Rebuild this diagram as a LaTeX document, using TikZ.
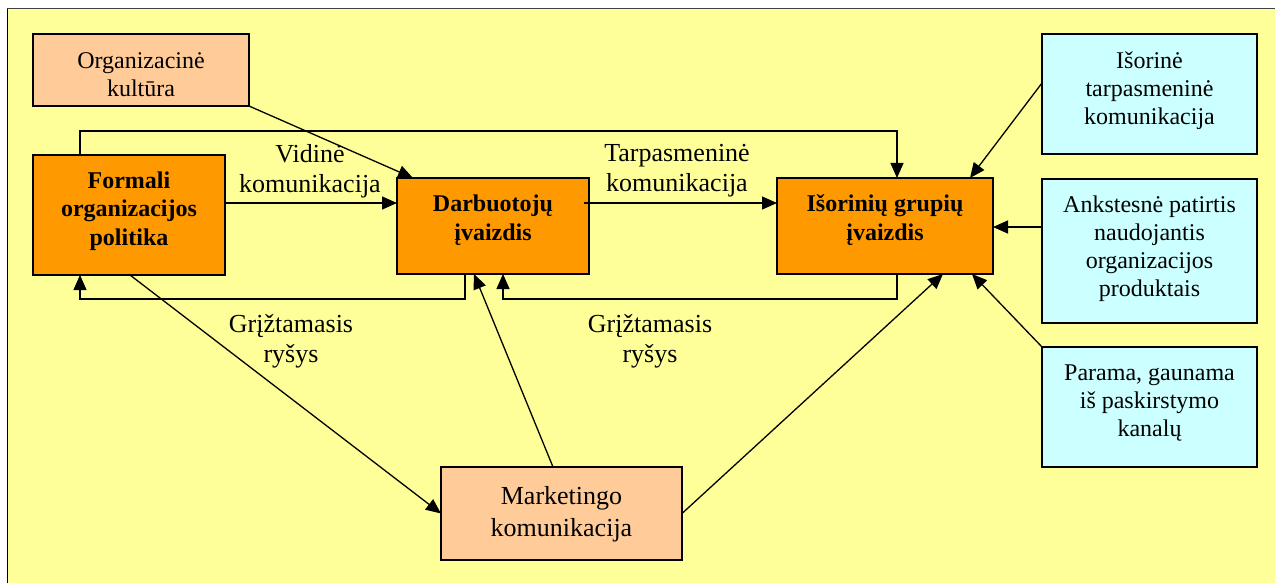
\documentclass[tikz,border=0pt]{standalone}
\usepackage{fontspec}
\setmainfont{LiberationSerif}[Extension=.ttf,UprightFont=*-Regular,BoldFont=*-Bold,ItalicFont=*-Italic,BoldItalicFont=*-BoldItalic]
\usetikzlibrary{arrows.meta,calc}
\definecolor{bgyellow}{HTML}{FFFF99}
\definecolor{boxorange}{HTML}{FF9900}
\definecolor{boxpeach}{HTML}{FFCC99}
\definecolor{boxcyan}{HTML}{CCFFFF}
\begin{document}
\begin{tikzpicture}[x=1pt,y=-1pt,
  box/.style={draw=black,line width=1.3pt,rectangle,inner sep=0pt,outer sep=0pt},
  txt/.style={align=center,inner sep=0pt,font=\fontsize{24}{28}\selectfont},
  btxt/.style={align=center,inner sep=0pt,font=\fontsize{24}{28.5}\selectfont\bfseries},
  lbl/.style={align=center,inner sep=0pt,font=\fontsize{26}{30}\selectfont},
  arr/.style={line width=1.3pt,-{Triangle[length=15pt,width=13pt]}}]
% page and frame
\useasboundingbox (0,0) rectangle (1275,583);
\fill[white] (0,0) rectangle (1275,583);
\fill[bgyellow] (7.5,8.5) rectangle (1275,583);
\draw[black!75,line width=1.5pt] (7.5,583) -- (7.5,8.5) -- (1275,8.5);
\draw[black,line width=1.8pt] (7.5,583) -- (7.5,9);

% boxes
\node[box,fill=boxpeach,minimum width=216,minimum height=72] (cult) at (141,70) {};
\node[box,fill=boxorange,minimum width=192,minimum height=120] (form) at (129,215) {};
\node[box,fill=boxorange,minimum width=192,minimum height=96] (dimg) at (493,226) {};
\node[box,fill=boxorange,minimum width=216,minimum height=96] (ext) at (885,226) {};
\node[box,fill=boxcyan,minimum width=215,minimum height=120] (iti) at (1149.5,94) {};
\node[box,fill=boxcyan,minimum width=215,minimum height=144] (ank) at (1149.5,251) {};
\node[box,fill=boxcyan,minimum width=215,minimum height=120] (par) at (1149.5,407) {};
\node[box,fill=boxpeach,minimum width=241,minimum height=93] (mkt) at (561.5,513.5) {};

% box texts
\node[txt] (cultT) at ($(cult.center)+(0,5)$) {Organizacinė\\kultūra};
\node[btxt] (formT) at ($(form.center)+(0,-4)$) {Formali\\organizacijos\\politika};
\node[btxt] (dimgT) at ($(dimg.center)+(0,-6)$) {Darbuotojų\\įvaizdis};
\node[btxt] (extT) at ($(ext.center)+(0,-6)$) {Išorinių grupių\\įvaizdis};
\node[txt] (itiT) at ($(iti.center)+(0,-3)$) {Išorinė\\tarpasmeninė\\komunikacija};
\node[txt] (ankT) at ($(ank.center)+(0,-2)$) {Ankstesnė patirtis\\naudojantis\\organizacijos\\produktais};
\node[txt] (parT) at ($(par.center)+(0,-4)$) {Parama, gaunama\\iš paskirstymo\\kanalų};
\node[align=center,inner sep=0pt,font=\fontsize{26}{32}\selectfont] (mktT) at ($(mkt.center)+(0,1)$) {Marketingo\\komunikacija};

% connector labels
\node[lbl] (vidL) at (310,171) {Vidinė\\komunikacija};
\node[lbl] (tarpL) at (677,171) {Tarpasmeninė\\komunikacija};
\node[lbl] (fb1L) at (291,341) {Grįžtamasis\\ryšys};
\node[lbl] (fb2L) at (650,341) {Grįžtamasis\\ryšys};

% connectors
\draw[arr] (cult.south east) -- ($(dimg.north west)+(16,0)$);
\draw[arr] ($(form.north west)+(47,0)$) |- ($(ext.north west)+(120,-47)$) -- ($(ext.north west)+(120,0)$);
\draw[arr] ($(form.east)+(0,-12)$) -- ($(dimg.west)+(0,-23)$);
\draw[arr] ($(dimg.east)+(-5,-23)$) -- ($(ext.west)+(0,-23)$);
\draw[arr] ($(dimg.south west)+(68,0)$) -- ++(0,25) -| ($(form.south west)+(47,0)$);
\draw[arr] ($(ext.south west)+(120,0)$) -- ++(0,25) -| ($(dimg.south west)+(106,0)$);
\draw[arr] ($(form.south west)+(97,0)$) -- (mkt.west);
\draw[arr] ($(mkt.north west)+(112,0)$) -- ($(dimg.south west)+(77,0)$);
\draw[arr] (mkt.east) -- ($(ext.south west)+(166,0)$);
\draw[arr] ($(iti.west)+(0,-11)$) -- ($(ext.north west)+(193,0)$);
\draw[arr] ($(ank.west)+(0,-24)$) -- ($(ext.east)+(0,1)$);
\draw[arr] (par.north west) -- ($(ext.south west)+(195,0)$);
\end{tikzpicture}
\end{document}
